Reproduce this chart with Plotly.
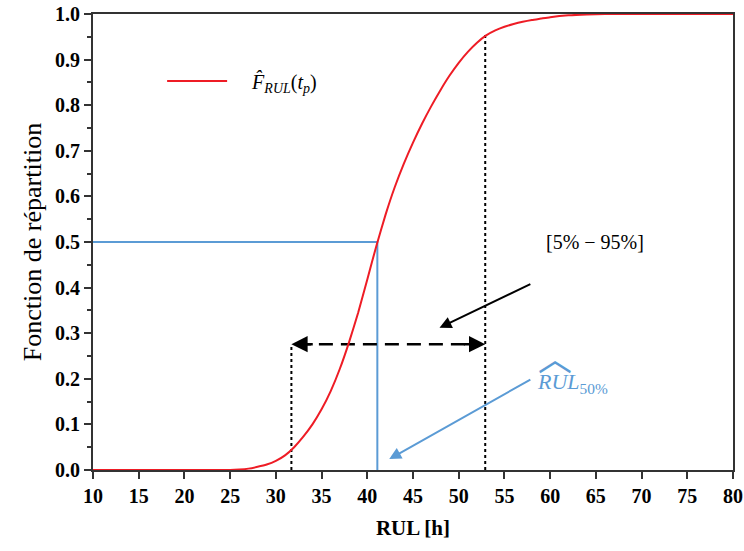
import plotly.graph_objects as go

# CDF of RUL
rul = [10, 15, 20, 25, 26, 27, 28, 29, 30, 31, 32, 33, 34, 35, 36, 37, 38, 39, 40,
       41, 42, 43, 44, 45, 46, 47, 48, 49, 50, 51, 52, 53, 54, 55, 56, 57, 58, 59,
       60, 62, 64, 66, 70, 75, 80]
cdf = [0, 0, 0, 0, 0.001, 0.003, 0.007, 0.012, 0.02, 0.032, 0.05, 0.073, 0.10, 0.133,
       0.173, 0.222, 0.28, 0.345, 0.418, 0.492, 0.56, 0.62, 0.672, 0.718, 0.76, 0.798,
       0.833, 0.865, 0.893, 0.917, 0.937, 0.953, 0.964, 0.972, 0.978, 0.983, 0.987, 0.990,
       0.993, 0.997, 0.999, 1.0, 1.0, 1.0, 1.0]

rul_50 = 41.1
rul_05 = 31.7
rul_95 = 52.9
cdf_at_05_marker = 0.276
cdf_at_95 = 0.954

x_ticks = list(range(10, 81, 5))
y_ticks = [round(i * 0.1, 1) for i in range(11)]

RED = "#ee1c25"
BLUE = "#5b9bd5"
SERIF = "Liberation Serif, Times New Roman, serif"

fig = go.Figure()

# median lines
fig.add_trace(go.Scatter(x=[10, rul_50, rul_50], y=[0.5, 0.5, 0], mode="lines",
                         line=dict(color=BLUE, width=2), showlegend=False, hoverinfo="skip"))
# 5% and 95% dotted lines
fig.add_trace(go.Scatter(x=[rul_05, rul_05], y=[0, cdf_at_05_marker], mode="lines",
                         line=dict(color="black", width=2, dash="dot"), showlegend=False))
fig.add_trace(go.Scatter(x=[rul_95, rul_95], y=[0, cdf_at_95], mode="lines",
                         line=dict(color="black", width=2, dash="dot"), showlegend=False))
# dashed interval line
fig.add_trace(go.Scatter(x=[rul_05 + 0.6, rul_95 - 0.6], y=[cdf_at_05_marker] * 2, mode="lines",
                         line=dict(color="black", width=2.5, dash="14px,8px"), showlegend=False))

# CDF curve
fig.add_trace(go.Scatter(x=rul, y=cdf, mode="lines",
                         line=dict(color=RED, width=2, shape="spline", smoothing=0.5),
                         name="\u2003<i>F̂</i><sub><i>RUL</i></sub>(<i>t</i><sub><i>p</i></sub>)"))

ann = []
# double arrow heads
for tip, tail in [(rul_05, rul_05 + 2.5), (rul_95, rul_95 - 2.5)]:
    ann.append(dict(x=tip, y=cdf_at_05_marker, ax=tail, ay=cdf_at_05_marker, xref="x", yref="y",
                    axref="x", ayref="y", showarrow=True, arrowhead=2, arrowsize=1.3,
                    arrowwidth=2.5, arrowcolor="black", text=""))
# black arrow to interval
ann.append(dict(x=47.9, y=0.312, ax=58.0, ay=0.409, xref="x", yref="y", axref="x", ayref="y",
                showarrow=True, arrowhead=2, arrowsize=1.2, arrowwidth=2, arrowcolor="black", text=""))
ann.append(dict(x=64.9, y=0.50, xref="x", yref="y", showarrow=False, text="[5% − 95%]",
                font=dict(family=SERIF, size=20, color="black")))
# blue arrow to median
ann.append(dict(x=42.4, y=0.024, ax=58.0, ay=0.2, xref="x", yref="y", axref="x", ayref="y",
                showarrow=True, arrowhead=2, arrowsize=1.2, arrowwidth=2, arrowcolor=BLUE, text=""))
ann.append(dict(x=58.3, y=0.19, xref="x", yref="y", showarrow=False, xanchor="left",
                text="<i>RUL</i><sub>50%</sub>",
                font=dict(family=SERIF, size=22, color=BLUE)))
ann.append(dict(x=58.4, y=0.248, xref="x", yref="y", showarrow=False, xanchor="left",
                text="︿", font=dict(family="Noto Sans CJK SC", size=34, color=BLUE)))

fig.update_layout(
    width=744, height=551,
    margin=dict(l=93, r=11, t=14, b=81),
    paper_bgcolor="white", plot_bgcolor="white",
    annotations=ann,
    showlegend=True,
    legend=dict(x=0.108, y=0.896, xanchor="left", yanchor="top", bgcolor="rgba(0,0,0,0)",
                font=dict(family=SERIF, size=20, color="black"), itemwidth=60),
    xaxis=dict(range=[10, 80], tickvals=x_ticks, ticktext=[str(v) for v in x_ticks],
               showgrid=False, zeroline=False, showline=True, mirror=True, automargin=False,
               linecolor="#333333", linewidth=2, ticks="outside", ticklen=7, tickwidth=2,
               tickcolor="#333333", layer="below traces",
               tickfont=dict(family=SERIF, size=20, color="black", weight="bold"),
               title=dict(text="<b>RUL [h]</b>", font=dict(family=SERIF, size=21, color="black"), standoff=14)),
    yaxis=dict(range=[0, 1], tickvals=y_ticks, ticktext=[f"{v:.1f}" for v in y_ticks],
               showgrid=False, zeroline=False, showline=True, mirror=True, automargin=False,
               linecolor="#333333", linewidth=2, ticks="outside", ticklen=7, tickwidth=2,
               tickcolor="#333333", layer="below traces",
               minor=dict(dtick=0.05, tick0=0, ticks="outside", ticklen=4, tickwidth=1.5, tickcolor="#333333"),
               tickfont=dict(family=SERIF, size=20, color="black", weight="bold"),
               title=dict(text="Fonction de répartition", font=dict(family=SERIF, size=26, color="black"), standoff=6)),
)

fig.write_html("out.html", config={"displayModeBar": False},
               post_script="document.body.style.margin='0px';document.body.style.overflow='hidden';")
